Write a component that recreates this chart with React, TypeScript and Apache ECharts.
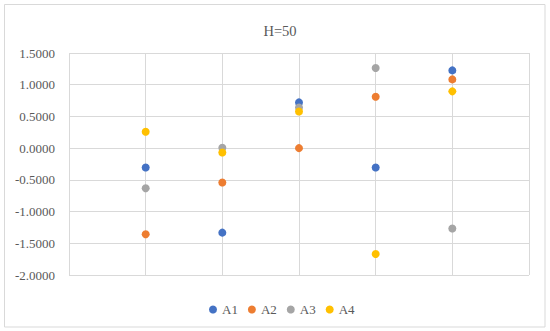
import React, { useEffect, useRef } from "react";
import * as echarts from "echarts";

const titleText = "H=50";
const seriesNames = ["A1", "A2", "A3", "A4"];
const xPositions = [1, 2, 3, 4, 5];
const a1 = [-0.305, -1.332, 0.721, -0.305, 1.226];
const a2 = [-1.358, -0.542, 0.0, 0.811, 1.084];
const a3 = [-0.632, 0.005, 0.642, 1.263, -1.268];
const a4 = [0.258, -0.068, 0.579, -1.668, 0.895];
const colors = ["#4472C4", "#ED7D31", "#A5A5A5", "#FFC000"];

const FONT = "'Liberation Serif', 'Times New Roman', serif";

export default function App() {
  const ref = useRef<HTMLDivElement>(null);
  useEffect(() => {
    document.body.style.margin = "0";
    const chart = echarts.init(ref.current!, undefined, { renderer: "svg" });
    const all = [a1, a2, a3, a4];
    chart.setOption({
      animation: false,
      backgroundColor: "#ffffff",
      color: colors,
      title: {
        text: titleText,
        left: 275,
        textAlign: "center",
        top: 18,
        textStyle: { fontFamily: FONT, fontSize: 14.5, fontWeight: "normal", color: "#595959" },
      },
      graphic: [
        {
          type: "rect",
          shape: { x: 4.5, y: 4.5, width: 540.5, height: 322.5 },
          style: { fill: "none", stroke: "#d9d9d9", lineWidth: 1 },
          silent: true,
        },
      ],
      legend: {
        left: 204,
        top: 298,
        itemWidth: 8,
        itemHeight: 8,
        itemGap: 10,
        icon: "circle",
        textStyle: { fontFamily: FONT, fontSize: 13, color: "#595959" },
        data: seriesNames,
      },
      grid: { left: 69, right: 21, top: 53, bottom: 56 },
      xAxis: {
        type: "value",
        min: 0,
        max: 6,
        interval: 1,
        axisLabel: { show: false },
        axisTick: { show: false },
        axisLine: { show: false },
        splitLine: { show: true, lineStyle: { color: "#d9d9d9", width: 1 } },
      },
      yAxis: {
        type: "value",
        min: -2,
        max: 1.5,
        interval: 0.5,
        axisLabel: {
          margin: 14,
          fontFamily: FONT,
          fontSize: 13,
          color: "#595959",
          formatter: (v: number) => v.toFixed(4),
        },
        axisTick: { show: false },
        axisLine: { show: false },
        splitLine: { show: true, lineStyle: { color: "#d9d9d9", width: 1 } },
      },
      series: seriesNames.map((name, i) => ({
        name,
        type: "scatter",
        symbol: "circle",
        symbolSize: 8,
        itemStyle: { color: colors[i], opacity: 1 },
        data: xPositions.map((x, j) => [x, all[i][j]]),
      })),
    });
    return () => chart.dispose();
  }, []);
  return (
    <div
      ref={ref}
      style={{ position: "fixed", left: 0, top: 0, width: 550, height: 331 }}
    />
  );
}
